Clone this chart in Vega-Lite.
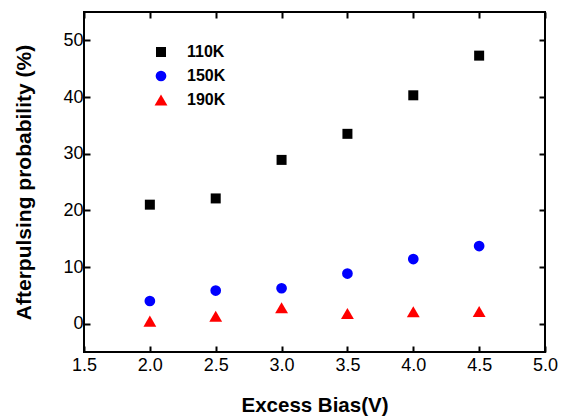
{
  "$schema": "https://vega.github.io/schema/vega-lite/v6.json",
  "width": 461,
  "height": 340,
  "autosize": "none",
  "padding": {"left": 84, "top": 12, "right": 16, "bottom": 64},
  "background": "white",
  "config": {
    "view": {"stroke": "black", "strokeWidth": 2},
    "font": "Liberation Sans",
    "axis": {"grid": false, "domain": false, "tickColor": "black", "tickWidth": 2, "tickSize": -6, "labelColor": "black", "titleColor": "black", "labelFont": "Liberation Sans", "titleFont": "Liberation Sans", "labelFontSize": 18, "titleFontSize": 21, "titleFontWeight": "bold", "labelOverlap": false, "labelFlush": false}
  },
  "data": {
    "values": [
      {"bias": 2.0, "p": 21.0, "T": "110K"},
      {"bias": 2.5, "p": 22.1, "T": "110K"},
      {"bias": 3.0, "p": 28.9, "T": "110K"},
      {"bias": 3.5, "p": 33.5, "T": "110K"},
      {"bias": 4.0, "p": 40.3, "T": "110K"},
      {"bias": 4.5, "p": 47.3, "T": "110K"},
      {"bias": 2.0, "p": 4.0, "T": "150K"},
      {"bias": 2.5, "p": 5.85, "T": "150K"},
      {"bias": 3.0, "p": 6.25, "T": "150K"},
      {"bias": 3.5, "p": 8.85, "T": "150K"},
      {"bias": 4.0, "p": 11.4, "T": "150K"},
      {"bias": 4.5, "p": 13.7, "T": "150K"},
      {"bias": 2.0, "p": 0.45, "T": "190K"},
      {"bias": 2.5, "p": 1.3, "T": "190K"},
      {"bias": 3.0, "p": 2.8, "T": "190K"},
      {"bias": 3.5, "p": 1.8, "T": "190K"},
      {"bias": 4.0, "p": 2.1, "T": "190K"},
      {"bias": 4.5, "p": 2.15, "T": "190K"}
    ]
  },
  "layer": [
    {
      "mark": {"type": "point", "filled": true, "opacity": 1},
      "encoding": {
        "x": {"field": "bias", "type": "quantitative", "scale": {"domain": [1.5, 5.0], "nice": false, "zero": false},
              "axis": {"orient": "bottom", "title": "Excess Bias(V)", "values": [1.5, 2.0, 2.5, 3.0, 3.5, 4.0, 4.5, 5.0], "format": ".1f", "labelPadding": 10, "titlePadding": 21, "titleFontSize": 20.5}},
        "y": {"field": "p", "type": "quantitative", "scale": {"domain": [-5, 55], "nice": false, "zero": false},
              "axis": {"orient": "left", "title": "Afterpulsing probability (%)", "values": [0, 10, 20, 30, 40, 50], "labelPadding": 7, "titlePadding": 28}},
        "color": {"field": "T", "type": "nominal", "scale": {"domain": ["110K", "150K", "190K"], "range": ["#000000", "#0000ff", "#ff0000"]},
                  "legend": {"title": null, "orient": "none", "legendX": 69, "legendY": 32, "labelFont": "Liberation Sans", "labelFontSize": 16, "labelFontWeight": "bold", "labelColor": "black", "labelOffset": 18, "rowPadding": 8, "symbolOpacity": 1,
                             "encode": {"symbols": {"update": {"size": {"signal": "datum.value === '110K' ? 49 : datum.value === '150K' ? 81 : 144"}}}}}},
        "shape": {"field": "T", "type": "nominal", "scale": {"domain": ["110K", "150K", "190K"], "range": ["square", "circle", "triangle-up"]}},
        "size": {"field": "T", "type": "nominal", "scale": {"type": "ordinal", "domain": ["110K", "150K", "190K"], "range": [100, 115, 165]}, "legend": null}
      }
    },
    {
      "mark": {"type": "point", "opacity": 0},
      "encoding": {
        "x": {"field": "bias", "type": "quantitative", "axis": {"orient": "top", "title": null, "labels": false, "values": [1.5, 2.0, 2.5, 3.0, 3.5, 4.0, 4.5, 5.0]}},
        "y": {"field": "p", "type": "quantitative", "axis": {"orient": "right", "title": null, "labels": false, "values": [0, 10, 20, 30, 40, 50]}}
      }
    }
  ],
  "resolve": {"axis": {"x": "independent", "y": "independent"}}
}
